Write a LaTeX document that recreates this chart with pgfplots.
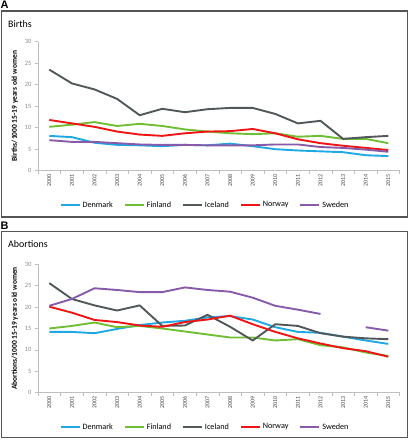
\documentclass[border=0pt]{standalone}
\usepackage{pgfplots}
\pgfplotsset{compat=1.18}
\usepackage{fontspec}
\setmainfont{Carlito}
\newfontfamily\arialfont{Liberation Sans}
\definecolor{cden}{RGB}{30,168,228}
\definecolor{cfin}{RGB}{112,190,52}
\definecolor{cice}{RGB}{80,88,90}
\definecolor{cnor}{RGB}{240,20,20}
\definecolor{cswe}{RGB}{135,90,170}
\definecolor{axisgray}{RGB}{190,190,190}
\definecolor{panelgray}{RGB}{85,85,85}
\definecolor{ticktext}{RGB}{70,70,70}
\definecolor{yticktext}{RGB}{140,140,140}
\pgfplotsset{
  panel/.style={
    anchor=south west, scale only axis, width=361.6bp,
    xmin=1999.5, xmax=2015.5, ymin=0, ymax=30,
    axis x line*=bottom, axis y line*=left,
    axis line style={draw=axisgray, line width=0.6pt},
    xtick={1999.5,2000.5,...,2015.5}, xticklabels={},
    ytick={0,5,...,30},
    major tick length=3bp, tick align=outside,
    tick style={draw=axisgray, line width=0.5pt},
    extra x ticks={2000,2001,...,2015},
    extra x tick style={major tick length=0pt,
      xticklabel style={rotate=90, anchor=east, font=\fontsize{6}{7}\selectfont, text=ticktext,
        /pgf/number format/1000 sep={}, /pgf/number format/assume math mode=true}},
    yticklabel style={font=\fontsize{6.5}{7}\selectfont, text=yticktext, /pgf/number format/assume math mode=true},
    ylabel style={font=\bfseries\fontsize{7.5}{8}\selectfont},
    every axis plot/.append style={line width=1.9pt, line join=round, mark=none},
    legend columns=5,
    legend style={draw=none, fill=none, font=\fontsize{8.2}{9}\selectfont, anchor=center,
      /tikz/every even column/.append style={column sep=9bp},
      inner sep=0pt},
    legend image code/.code={\draw[##1] (0bp,0bp) -- (19bp,0bp);},
    unbounded coords=jump,
  }
}
\begin{document}
\begin{tikzpicture}
% Panel A
\draw[panelgray, line width=1.2bp] (1.2bp,223bp) rectangle (407.5bp,429bp);
\node[anchor=west, font=\arialfont\bfseries\fontsize{11}{12}\selectfont, inner sep=0pt] at (0.5bp,435bp) {A};
\node[anchor=west, font=\fontsize{10}{11}\selectfont, inner sep=0pt] at (8bp,416bp) {Births};
\begin{axis}[panel, at={(38bp,269.3bp)}, height=129bp,
  ylabel={Births/1000 15-19 years old women},
  legend style={at={(axis description cs:0.462,-0.266)}}]
\addplot[cden] coordinates {(2000,8.1)(2001,7.8)(2002,6.5)(2003,6.0)(2004,5.9)(2005,5.7)(2006,6.0)(2007,5.9)(2008,6.3)(2009,5.7)(2010,5.0)(2011,4.7)(2012,4.5)(2013,4.3)(2014,3.6)(2015,3.4)};
\addlegendentry{Denmark}
\addplot[cfin] coordinates {(2000,10.2)(2001,10.7)(2002,11.3)(2003,10.4)(2004,10.9)(2005,10.4)(2006,9.6)(2007,9.1)(2008,8.7)(2009,8.5)(2010,8.7)(2011,7.9)(2012,8.1)(2013,7.4)(2014,7.4)(2015,6.4)};
\addlegendentry{Finland}
\addplot[cice] coordinates {(2000,23.5)(2001,20.3)(2002,18.9)(2003,16.7)(2004,12.9)(2005,14.4)(2006,13.6)(2007,14.3)(2008,14.6)(2009,14.6)(2010,13.2)(2011,11.0)(2012,11.6)(2013,7.4)(2014,7.8)(2015,8.1)};
\addlegendentry{Iceland}
\addplot[cnor] coordinates {(2000,11.8)(2001,11.0)(2002,10.2)(2003,9.1)(2004,8.4)(2005,8.1)(2006,8.7)(2007,9.1)(2008,9.2)(2009,9.7)(2010,8.7)(2011,7.3)(2012,6.4)(2013,5.8)(2014,5.3)(2015,4.8)};
\addlegendentry{Norway}
\addplot[cswe] coordinates {(2000,7.1)(2001,6.7)(2002,6.7)(2003,6.4)(2004,6.1)(2005,6.0)(2006,6.0)(2007,5.9)(2008,5.9)(2009,5.9)(2010,6.1)(2011,6.1)(2012,5.5)(2013,5.3)(2014,4.9)(2015,4.4)};
\addlegendentry{Sweden}
\end{axis}
% Panel B
\draw[panelgray, line width=1.2bp] (1.2bp,2.5bp) rectangle (407.5bp,208.5bp);
\node[anchor=west, font=\arialfont\bfseries\fontsize{11}{12}\selectfont, inner sep=0pt] at (0.5bp,214bp) {B};
\node[anchor=west, font=\fontsize{10}{11}\selectfont, inner sep=0pt] at (8bp,196bp) {Abortions};
\begin{axis}[panel, at={(38bp,47.3bp)}, height=128.4bp,
  ylabel={Abortions/1000 15-19 years old women},
  legend style={at={(axis description cs:0.462,-0.267)}}]
\addplot[cden] coordinates {(2000,14.2)(2001,14.2)(2002,13.9)(2003,14.9)(2004,15.8)(2005,16.4)(2006,16.8)(2007,17.6)(2008,17.9)(2009,17.1)(2010,15.3)(2011,14.2)(2012,14.0)(2013,13.1)(2014,12.2)(2015,11.4)};
\addlegendentry{Denmark}
\addplot[cfin] coordinates {(2000,15.0)(2001,15.6)(2002,16.4)(2003,15.3)(2004,15.6)(2005,15.0)(2006,14.3)(2007,13.6)(2008,12.9)(2009,12.9)(2010,12.2)(2011,12.5)(2012,11.1)(2013,10.6)(2014,9.4)(2015,8.6)};
\addlegendentry{Finland}
\addplot[cice] coordinates {(2000,25.6)(2001,21.9)(2002,20.4)(2003,19.2)(2004,20.4)(2005,15.6)(2006,15.7)(2007,18.2)(2008,15.4)(2009,12.2)(2010,16.0)(2011,15.6)(2012,13.9)(2013,13.1)(2014,12.7)(2015,12.5)};
\addlegendentry{Iceland}
\addplot[cnor] coordinates {(2000,20.1)(2001,18.7)(2002,17.0)(2003,16.5)(2004,15.7)(2005,15.4)(2006,16.5)(2007,17.1)(2008,18.0)(2009,16.0)(2010,14.2)(2011,12.7)(2012,11.5)(2013,10.4)(2014,9.7)(2015,8.4)};
\addlegendentry{Norway}
\addplot[cswe] coordinates {(2000,20.3)(2001,21.9)(2002,24.4)(2003,24.0)(2004,23.5)(2005,23.5)(2006,24.6)(2007,24.0)(2008,23.6)(2009,22.2)(2010,20.3)(2011,19.4)(2012,18.4)(2013,nan)(2014,15.3)(2015,14.5)};
\addlegendentry{Sweden}
\end{axis}
\pgfresetboundingbox
\path[use as bounding box] (0,0) rectangle (409bp,440bp);
\end{tikzpicture}
\end{document}
